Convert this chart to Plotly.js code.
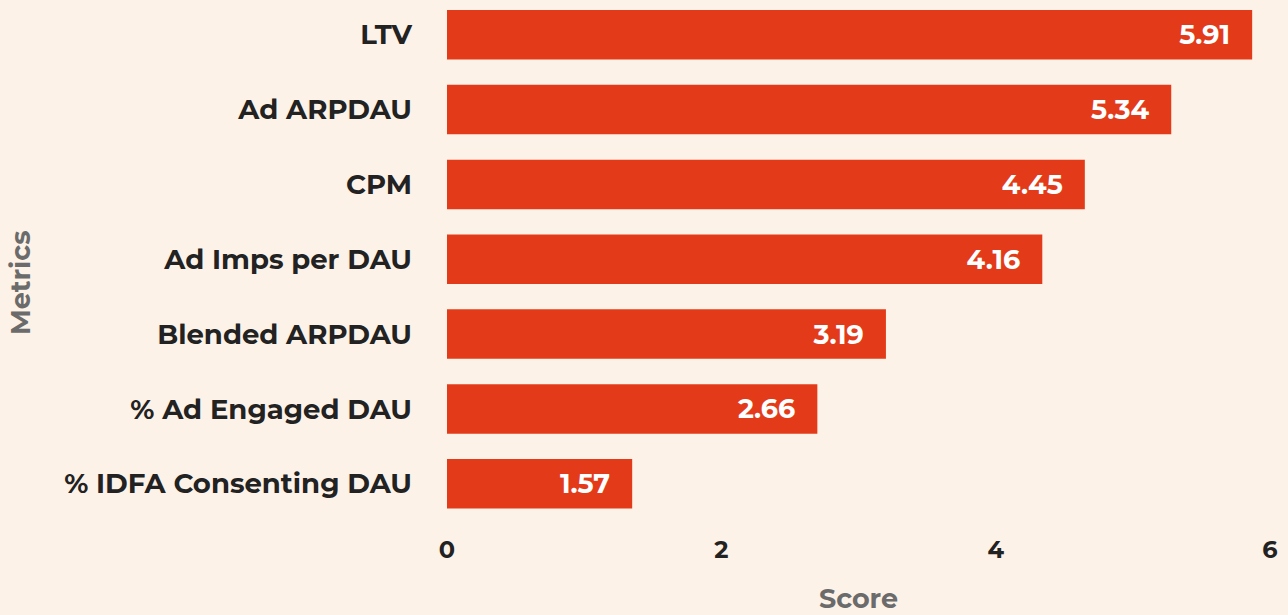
<!DOCTYPE html>
<html>
<head>
<meta charset="utf-8">
<script src="https://cdn.plot.ly/plotly-3.0.1.min.js"></script>
<style>
html,body{margin:0;padding:0;background:#fdf2e8;}
#chart{width:1288px;height:615px;}
</style>
</head>
<body>
<div id="chart"></div>
<script>
const metrics = ["LTV", "Ad ARPDAU", "CPM", "Ad Imps per DAU", "Blended ARPDAU", "% Ad Engaged DAU", "% IDFA Consenting DAU"];
const barLengths = [5.87, 5.28, 4.65, 4.34, 3.20, 2.70, 1.35];
const scoreLabels = ["5.91", "5.34", "4.45", "4.16", "3.19", "2.66", "1.57"];
const xTicks = [0, 2, 4, 6];
const xTitle = "Score";
const yTitle = "Metrics";

const FONT = "Montserrat, 'Open Sans', sans-serif";
const pad = "\u00a0\u00a0\u2009";

const trace = {
  type: "bar",
  orientation: "h",
  x: barLengths,
  y: metrics,
  text: scoreLabels.map(s => s + pad),
  textposition: "inside",
  insidetextanchor: "end",
  textangle: 0,
  textfont: {family: FONT, size: 27, color: "#ffffff", weight: 700},
  marker: {color: "#e33b1a"},
  hoverinfo: "skip",
  cliponaxis: false
};

const layout = {
  width: 1288,
  height: 615,
  paper_bgcolor: "#fdf2e8",
  plot_bgcolor: "#fdf2e8",
  margin: {l: 447, r: 18, t: 0, b: 94},
  bargap: 0.339,
  showlegend: false,
  font: {family: FONT, color: "#222222"},
  xaxis: {
    range: [0, 6],
    tickvals: xTicks,
    ticktext: xTicks.map(String),
    showgrid: false,
    zeroline: false,
    showline: false,
    ticks: "",
    ticklabelstandoff: 12,
    tickfont: {family: FONT, size: 24, color: "#222222", weight: 700},
    title: {text: xTitle, font: {family: FONT, size: 27, color: "#6b6b6b", weight: 700}, standoff: 27}
  },
  yaxis: {
    type: "category",
    categoryorder: "array",
    categoryarray: metrics,
    range: [6.498, -0.464],
    showgrid: false,
    zeroline: false,
    showline: false,
    ticks: "",
    ticklabelstandoff: 34,
    tickfont: {family: FONT, size: 27.5, color: "#222222", weight: 700}
  },
  annotations: [{
    text: yTitle,
    xref: "paper", yref: "paper",
    x: (20 - 447) / 823, y: (521 - 283) / 521,
    xanchor: "center", yanchor: "middle",
    textangle: -90,
    showarrow: false,
    font: {family: FONT, size: 27, color: "#6b6b6b", weight: 700}
  }]
};

Plotly.newPlot("chart", [trace], layout, {displayModeBar: false, staticPlot: true});
</script>
</body>
</html>
